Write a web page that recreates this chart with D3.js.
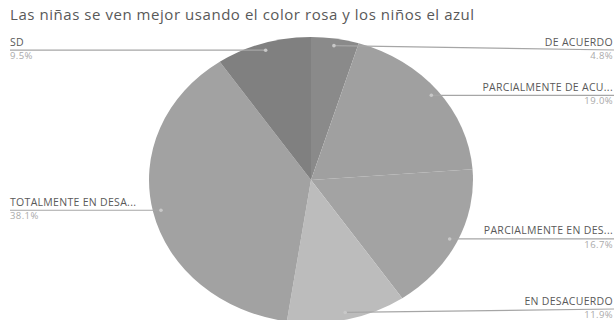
<!DOCTYPE html>
<html><head><meta charset="utf-8">
<script src="https://cdn.jsdelivr.net/npm/d3@7/dist/d3.min.js"></script>
<style>body{margin:0;background:#fff}svg{display:block}</style>
</head><body><svg id="c" width="615" height="320"></svg>
<script>
const title = "Las niñas se ven mejor usando el color rosa y los niños el azul";
const categories = ["DE ACUERDO","PARCIALMENTE DE ACUERDO","PARCIALMENTE EN DESACUERDO","EN DESACUERDO","TOTALMENTE EN DESACUERDO","SD"];
const shortLabels = ["DE ACUERDO","PARCIALMENTE DE ACU...","PARCIALMENTE EN DES...","EN DESACUERDO","TOTALMENTE EN DESA...","SD"];
const counts = [2, 8, 7, 5, 16, 4];
const colors = ["#8a8a8a","#a0a0a0","#a3a3a3","#bcbcbc","#a2a2a2","#808080"];

const svg = d3.select("#c");
const cx = 311, cy = 180, rx = 162, ry = 143;

svg.append("text").attr("x", 10).attr("y", 20)
  .attr("font-family", "Open Sans").attr("font-size", 15).attr("letter-spacing", 0.55)
  .attr("fill", "#595959")
  .text(title);

const total = d3.sum(counts);
const pie = d3.pie().sort(null).value(d => d)(counts);
const arc = d3.arc().innerRadius(0).outerRadius(rx);
const anchorArc = d3.arc().innerRadius(rx * 0.95).outerRadius(rx * 0.95);
const sy = ry / rx;

const g = svg.append("g").attr("transform", `translate(${cx},${cy}) scale(1,${sy})`);
g.selectAll("path").data(pie).join("path")
  .attr("d", arc).attr("fill", (d, i) => colors[i]);

const fmt = d3.format(".1%");
pie.forEach((d, i) => {
  const c = anchorArc.centroid(d);
  const px = cx + c[0], py = cy + c[1] * sy;
  const right = px >= cx;
  const ly = Math.max(50, Math.min(309, py));
  const xEnd = right ? 614 : 10;
  svg.append("line").attr("x1", px).attr("y1", py).attr("x2", xEnd).attr("y2", ly)
    .attr("stroke", "#a6a6a6").attr("stroke-width", 1.2);
  svg.append("circle").attr("cx", px).attr("cy", py).attr("r", 1.8).attr("fill", "#c8c8c8");
  const tx = right ? 613 : 10;
  const anchor = right ? "end" : "start";
  svg.append("text").attr("x", tx).attr("y", ly - 4.5).attr("text-anchor", anchor)
    .attr("font-family", "Open Sans").attr("font-size", 10.5).attr("letter-spacing", 0.3)
    .attr("fill", "#595959")
    .text(shortLabels[i]);
  svg.append("text").attr("x", tx).attr("y", ly + 9).attr("text-anchor", anchor)
    .attr("font-family", "Open Sans").attr("font-size", 9.5).attr("letter-spacing", 0.4)
    .attr("fill", "#aaaaaa")
    .text(fmt(d.value / total));
});
</script></body></html>
